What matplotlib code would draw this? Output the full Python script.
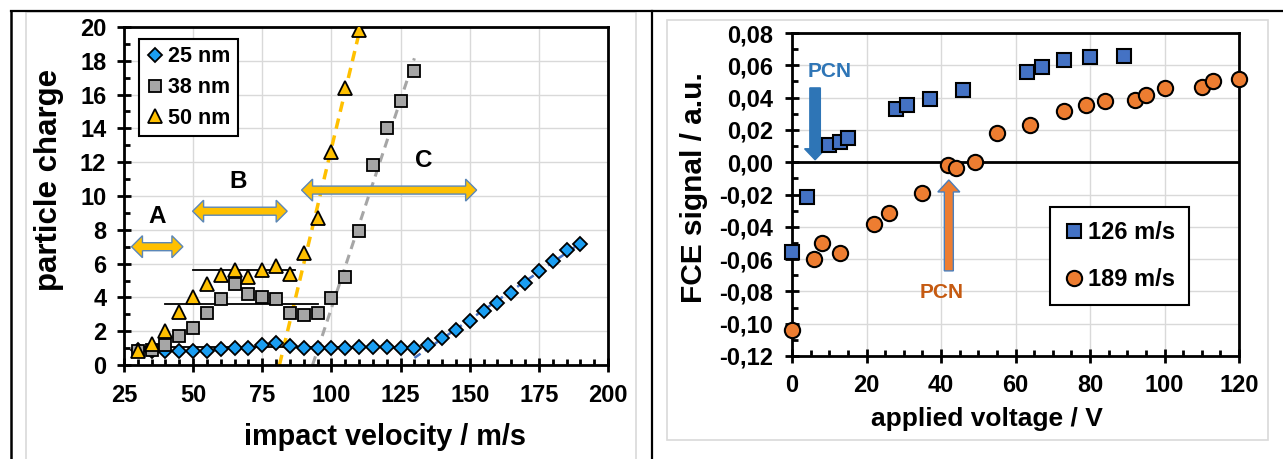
import numpy as np
import matplotlib
matplotlib.use("Agg")
import matplotlib.pyplot as plt
from matplotlib.patches import Polygon, Rectangle
from matplotlib.lines import Line2D
from matplotlib.ticker import MultipleLocator, FuncFormatter

plt.rcParams['font.family'] = ['Liberation Sans', 'DejaVu Sans']
plt.rcParams['font.weight'] = 'bold'

# ---------------- Left panel data ----------------
v25 = [30, 35, 40, 45, 50, 55, 60, 65, 70, 75, 80, 85, 90, 95, 100, 105, 110, 115,
       120, 125, 130, 135, 140, 145, 150, 155, 160, 165, 170, 175, 180, 185, 190]
q25 = [0.9, 0.85, 0.8, 0.8, 0.8, 0.85, 0.95, 1.0, 1.0, 1.2, 1.3, 1.15, 1.0, 1.0, 1.0, 1.0, 1.05, 1.05,
       1.05, 1.02, 1.0, 1.18, 1.58, 2.07, 2.62, 3.2, 3.69, 4.28, 4.83, 5.58, 6.17, 6.8, 7.16]
v38 = [30, 35, 40, 45, 50, 55, 60, 65, 70, 75, 80, 85, 90, 95, 100, 105, 110, 115, 120, 125, 130]
q38 = [0.85, 0.9, 1.18, 1.74, 2.2, 3.1, 3.9, 4.8, 4.2, 4.0, 3.9, 3.06, 2.96, 3.1, 3.94, 5.2, 7.9,
       11.83, 14.0, 15.6, 17.4]
v50 = [30, 35, 40, 45, 50, 55, 60, 65, 70, 75, 80, 85, 90, 95, 100, 105, 110]
q50 = [0.8, 1.25, 2.0, 3.15, 4.0, 4.8, 5.3, 5.65, 5.2, 5.6, 5.85, 5.4, 6.6, 8.7, 12.6, 16.4, 19.8]

left_xticks = [25, 50, 75, 100, 125, 150, 175, 200]
left_yticks = [0, 2, 4, 6, 8, 10, 12, 14, 16, 18, 20]
left_labels = ["25 nm", "38 nm", "50 nm"]

# linear fits (data ranges used for each fit, drawn range end)
fit25_range = (135, 190); fit25_draw = (130, 190)
fit38_range = (105, 130); fit38_draw_end = 130
fit50_range = (90, 110); fit50_draw_end = 110

# plateau levels: (x start, x end, level)
plateaus = [(50, 87, 5.6), (40, 95, 3.6), (30, 130, 1.05)]

# regime arrows: (x start, x end, y, label, label x, label y)
regimes = [(27.7, 46.3, 7.0, "A", 37, 8.8),
           (49.8, 84.0, 9.1, "B", 66.3, 10.85),
           (89.2, 152.5, 10.35, "C", 133.2, 12.1)]

# ---------------- Right panel data ----------------
u126 = [0, 4, 10, 13, 15, 28, 31, 37, 46, 63, 67, 73, 80, 89]
s126 = [-0.0555, -0.0216, 0.0104, 0.0122, 0.0149, 0.0329, 0.0356, 0.0393, 0.0449,
        0.0556, 0.0587, 0.0635, 0.0649, 0.066]
u189 = [0, 6, 8, 13, 22, 26, 35, 42, 44, 49, 55, 64, 73, 79, 84, 92, 95, 100, 110, 113, 120]
s189 = [-0.1039, -0.0599, -0.0502, -0.056, -0.038, -0.0316, -0.0188, -0.002, -0.0033, 0.0,
        0.018, 0.0228, 0.0319, 0.0356, 0.038, 0.0387, 0.0414, 0.0459, 0.0466, 0.05, 0.0517]
right_labels = ["126 m/s", "189 m/s"]
right_xticks = [0, 20, 40, 60, 80, 100, 120]
right_yticks = [-0.12, -0.10, -0.08, -0.06, -0.04, -0.02, 0.0, 0.02, 0.04, 0.06, 0.08]

# PCN arrows: (x, y from, y to), label position
pcn_blue = (6.2, 0.046, 0.0015); pcn_blue_text = (10.1, 0.056)
pcn_orange = (42.1, -0.0673, -0.011); pcn_orange_text = (40.1, -0.0808)

# colours
C25, C38, C50 = '#1A9EF2', '#A6A6A6', '#FFC000'
C126, C189 = '#4472C4', '#ED7D31'
GRID = '#D9D9D9'

fig = plt.figure(figsize=(12.83, 4.59), dpi=100)
W, H = 1283, 459

def fig_rect(x0, y0, x1, y1):
    return [x0 / W, 1 - y1 / H, (x1 - x0) / W, (y1 - y0) / H]

# outer frames (table lines) and chart borders
fig.add_artist(Rectangle((26 / W, -0.1), (636 - 26) / W, 1.1 - 12 / H, transform=fig.transFigure,
                         fc='none', ec=GRID, lw=1.2))
fig.add_artist(Rectangle((667 / W, 1 - 440 / H), (1268 - 667) / W, (440 - 20) / H, transform=fig.transFigure,
                         fc='none', ec=GRID, lw=1.2))
fig.add_artist(Line2D([11 / W, 1], [1 - 11 / H, 1 - 11 / H], transform=fig.transFigure, color='black', lw=1.6))
fig.add_artist(Line2D([11 / W, 11 / W], [0, 1 - 11 / H], transform=fig.transFigure, color='black', lw=1.8))
fig.add_artist(Line2D([652 / W, 652 / W], [0, 1 - 11 / H], transform=fig.transFigure, color='black', lw=1.6))

axL = fig.add_axes(fig_rect(124, 27, 608, 365))
axR = fig.add_axes(fig_rect(792, 33, 1239, 356))

def style_axes(ax):
    for s in ax.spines.values():
        s.set_linewidth(2.0)
        s.set_color('black')
    ax.grid(True, which='major', color=GRID, lw=1.0)
    ax.set_axisbelow(True)
    ax.tick_params(which='major', direction='inout', length=9.5, width=2.0, labelsize=17,
                   top=False, right=False)
    ax.tick_params(which='minor', direction='in', length=4.5, width=2.0, top=False, right=False)
    for lab in ax.get_xticklabels() + ax.get_yticklabels():
        lab.set_fontweight('bold')

# ---------------- Left panel ----------------
axL.set_xlim(25, 200)
axL.set_ylim(0, 20)
axL.set_xticks(left_xticks)
axL.set_yticks(left_yticks)
axL.xaxis.set_minor_locator(MultipleLocator(5))
axL.yaxis.set_minor_locator(MultipleLocator(1))
style_axes(axL)
axL.tick_params(axis='x', which='major', pad=9)
axL.tick_params(axis='y', which='major', pad=8)

def fit_line(xs, ys, rng):
    xs = np.asarray(xs, float); ys = np.asarray(ys, float)
    m = (xs >= rng[0]) & (xs <= rng[1])
    return np.polyfit(xs[m], ys[m], 1)

p25 = fit_line(v25, q25, fit25_range)
p38 = fit_line(v38, q38, fit38_range)
p50 = fit_line(v50, q50, fit50_range)
xa = np.array(fit25_draw, float)
axL.plot(xa, np.polyval(p25, xa), ls=(0, (3, 2)), color=C126, lw=1.8, zorder=2)
xb = np.array([-p38[1] / p38[0], fit38_draw_end])
axL.plot(xb, np.polyval(p38, xb), ls=(0, (3, 2)), color=C38, lw=2.2, zorder=2)
xc = np.array([-p50[1] / p50[0], fit50_draw_end])
axL.plot(xc, np.polyval(p50, xc), ls=(0, (3, 2)), color=C50, lw=2.5, zorder=2)

for x0, x1, lev in plateaus:
    axL.plot([x0, x1], [lev, lev], color='black', lw=1.3, zorder=2.5)

fig.canvas.draw()

def double_arrow(ax, x0, x1, y, body=8, head_w=22, head_l=11, fc=C50, ec='#5B87B8', z=3):
    (X0, Y), (X1, _) = ax.transData.transform([(x0, y), (x1, y)])
    b, h = body / 2, head_w / 2
    pts = [(X0, Y), (X0 + head_l, Y + h), (X0 + head_l, Y + b), (X1 - head_l, Y + b),
           (X1 - head_l, Y + h), (X1, Y), (X1 - head_l, Y - h), (X1 - head_l, Y - b),
           (X0 + head_l, Y - b), (X0 + head_l, Y - h)]
    data = ax.transData.inverted().transform(pts)
    ax.add_patch(Polygon(data, closed=True, fc=fc, ec=ec, lw=1.0, zorder=z, clip_on=False))

def vert_arrow(ax, x, y0, y1, body=10, head_w=21, head_l=11, fc='b', ec='b', z=3):
    (X, Y0), (_, Y1) = ax.transData.transform([(x, y0), (x, y1)])
    sgn = 1 if Y1 > Y0 else -1
    b, h = body / 2, head_w / 2
    Yh = Y1 - sgn * head_l
    pts = [(X - b, Y0), (X - b, Yh), (X - h, Yh), (X, Y1), (X + h, Yh), (X + b, Yh), (X + b, Y0)]
    data = ax.transData.inverted().transform(pts)
    ax.add_patch(Polygon(data, closed=True, fc=fc, ec=ec, lw=1.0, zorder=z, clip_on=False))

for x0, x1, y, lab, lx, ly in regimes:
    double_arrow(axL, x0, x1, y)
    axL.text(lx, ly, lab, fontsize=17.5, fontweight='bold', ha='center', va='center', zorder=5)

h25, = axL.plot(v25, q25, ls='none', marker='D', ms=7.5, mfc=C25, mec='black', mew=1.3, zorder=4)
h38, = axL.plot(v38, q38, ls='none', marker='s', ms=8.5, mfc=C38, mec='black', mew=1.3, zorder=4.1)
h50, = axL.plot(v50, q50, ls='none', marker='^', ms=10, mfc=C50, mec='black', mew=1.3, zorder=4.2)

legL = axL.legend([h25, h38, h50], left_labels, loc='upper left', bbox_to_anchor=(0.031, 0.965),
                  frameon=True, fancybox=False, edgecolor='black', framealpha=1,
                  handlelength=0.8, handletextpad=0.2, labelspacing=0.45, borderpad=0.35,
                  borderaxespad=0, prop={'weight': 'bold', 'size': 15.5})
legL.get_frame().set_linewidth(1.5)
legL.set_zorder(6)

axL.set_xlabel("impact velocity / m/s", fontsize=20.8, fontweight='bold')
axL.set_ylabel("particle charge", fontsize=22.5, fontweight='bold')
axL.xaxis.set_label_coords(0.54, -0.172)
axL.yaxis.set_label_coords(-0.124, 0.547)

# ---------------- Right panel ----------------
axR.set_xlim(0, 120)
axR.set_ylim(-0.12, 0.08)
axR.set_xticks(right_xticks)
axR.set_yticks(right_yticks)
axR.xaxis.set_minor_locator(MultipleLocator(5))
axR.yaxis.set_minor_locator(MultipleLocator(0.01))
axR.yaxis.set_major_formatter(FuncFormatter(lambda v, p: f"{v:.2f}".replace('.', ',')))
style_axes(axR)
axR.tick_params(axis='x', which='major', pad=8)
axR.tick_params(axis='y', which='major', pad=9)
axR.axhline(0, color='black', lw=2.0, zorder=2)

vert_arrow(axR, *pcn_blue, body=10.5, head_w=21, head_l=11, fc='#2E75B6', ec='#2E75B6')
axR.text(*pcn_blue_text, "PCN", color='#2E75B6', fontsize=15, fontweight='bold', ha='center', va='center')
vert_arrow(axR, *pcn_orange, body=9, head_w=22, head_l=12, fc=C189, ec='#4A7EBB')
axR.text(*pcn_orange_text, "PCN", color='#C55A11', fontsize=15, fontweight='bold', ha='center', va='center')

h126, = axR.plot(u126, s126, ls='none', marker='s', ms=10, mfc=C126, mec='black', mew=1.5, zorder=4,
                 clip_on=False)
h189, = axR.plot(u189, s189, ls='none', marker='o', ms=11, mfc=C189, mec='black', mew=1.5, zorder=4,
                 clip_on=False)

legR = axR.legend([h126, h189], right_labels, loc='lower left', bbox_to_anchor=(0.577, 0.158),
                  frameon=True, fancybox=False, edgecolor='black', framealpha=1,
                  handlelength=0.8, handletextpad=0.2, labelspacing=1.0, borderpad=0.6,
                  borderaxespad=0, prop={'weight': 'bold', 'size': 17})
legR.get_frame().set_linewidth(1.5)

axR.set_xlabel("applied voltage / V", fontsize=19, fontweight='bold')
axR.set_ylabel("FCE signal / a.u.", fontsize=21.5, fontweight='bold')
axR.xaxis.set_label_coords(0.436, -0.158)
axR.yaxis.set_label_coords(-0.187, 0.52)

fig.savefig("out.png", dpi=100)
